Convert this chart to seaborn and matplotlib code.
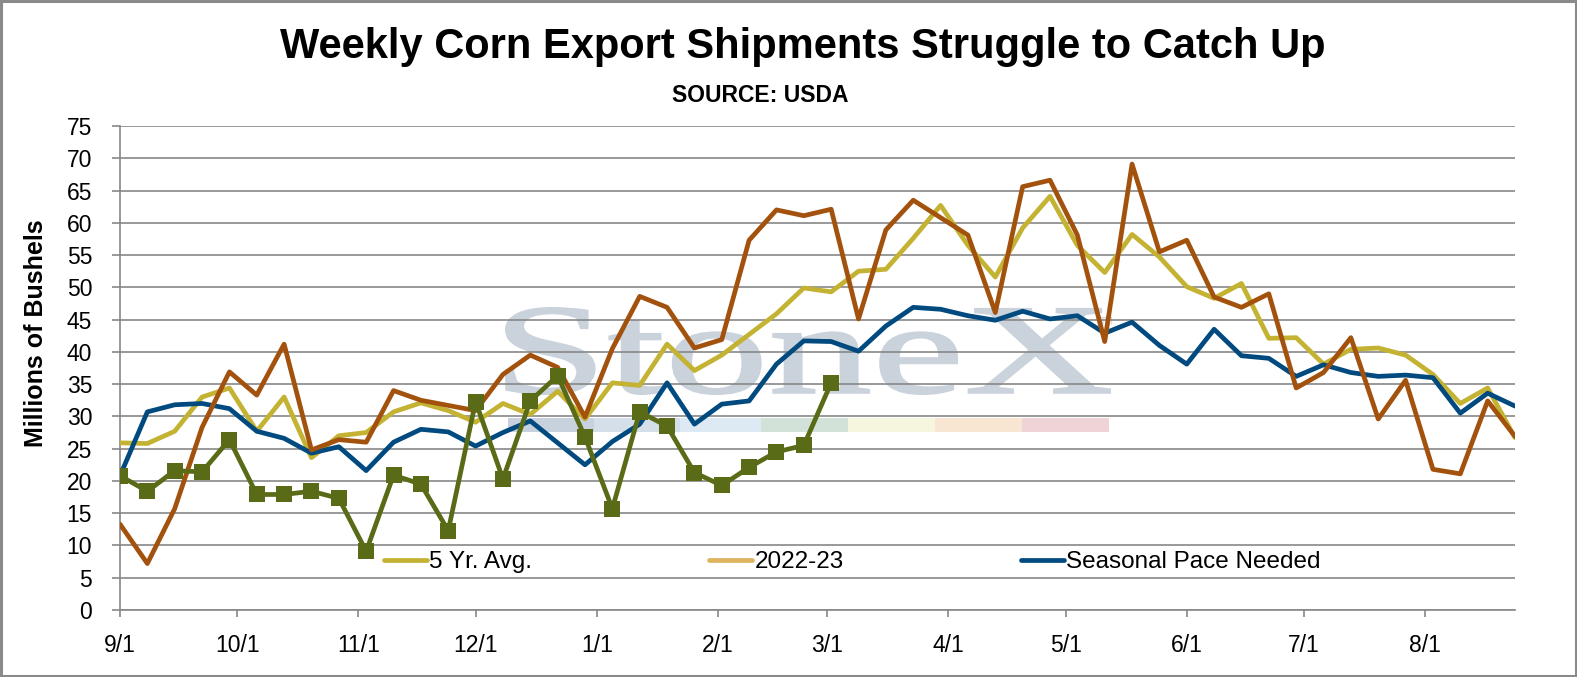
import numpy as np
import pandas as pd
import matplotlib
matplotlib.use("Agg")
import matplotlib.pyplot as plt
import matplotlib.dates as mdates
import seaborn as sns
from matplotlib.lines import Line2D
from matplotlib.textpath import TextPath
from matplotlib.patches import PathPatch, Rectangle
from matplotlib.font_manager import FontProperties
from matplotlib.transforms import Affine2D, IdentityTransform

# ---------------- data ----------------
weeks = pd.date_range("2022-09-01", periods=52, freq="7D")

avg5 = [25.9, 25.8, 27.7, 33.0, 34.4, 27.7, 33.0, 23.6, 27.0, 27.5,
        30.7, 32.1, 30.9, 29.1, 32.0, 30.3, 33.9, 29.6, 35.2, 34.8,
        41.2, 37.1, 39.5, 42.7, 45.9, 49.9, 49.3, 52.5, 52.8, 57.6,
        62.7, 56.5, 51.6, 59.2, 64.1, 56.5, 52.3, 58.2, 54.7, 50.1,
        48.3, 50.6, 42.1, 42.2, 38.1, 40.4, 40.6, 39.5, 36.5, 32.0,
        34.4, 26.7]
prev_year = [13.3, 7.2, 15.7, 28.3, 36.9, 33.3, 41.2, 24.8, 26.4, 26.0,
             34.0, 32.5, 31.7, 30.9, 36.5, 39.5, 37.6, 29.9, 40.5, 48.6,
             46.9, 40.6, 41.9, 57.3, 62.0, 61.1, 62.1, 45.1, 58.9, 63.5,
             60.8, 58.1, 46.1, 65.6, 66.6, 58.1, 41.6, 69.1, 55.5, 57.3,
             48.5, 46.9, 49.0, 34.4, 36.8, 42.2, 29.6, 35.6, 21.8, 21.1,
             32.4, 26.9]
pace_needed = [20.8, 30.7, 31.8, 32.0, 31.2, 27.7, 26.6, 24.3, 25.3, 21.6,
               26.0, 28.0, 27.6, 25.4, 27.5, 29.3, 25.9, 22.5, 26.1, 28.8,
               35.2, 28.8, 31.9, 32.4, 38.1, 41.7, 41.6, 40.1, 44.0, 46.9,
               46.6, 45.6, 44.9, 46.3, 45.1, 45.6, 42.9, 44.6, 41.0, 38.1,
               43.5, 39.4, 39.0, 36.2, 38.0, 36.8, 36.2, 36.4, 36.0, 30.5,
               33.6, 31.6]
current_year = [20.8, 18.4, 21.6, 21.4, 26.4, 17.9, 17.9, 18.4, 17.3, 9.1,
                20.9, 19.5, 12.3, 32.3, 20.3, 32.4, 36.3, 26.8, 15.7, 30.7,
                28.5, 21.3, 19.3, 22.1, 24.5, 25.5, 35.2]

legend_labels = ["5 Yr. Avg.", "2022-23", "Seasonal Pace Needed"]
month_ticks = pd.date_range("2022-09-01", "2023-08-01", freq="MS")
y_ticks = list(range(0, 80, 5))

# ---------------- style ----------------
sns.set_style("white")
plt.rcParams["font.family"] = ["Liberation Sans", "DejaVu Sans"]
for k in ["text.color", "axes.labelcolor", "xtick.labelcolor", "ytick.labelcolor"]:
    plt.rcParams[k] = "black"

C_AVG = "#C4B232"
C_PREV = "#A3520E"
C_PACE = "#004A7F"
C_CUR = "#5A6B17"
C_PREV_LEG = "#DDB45E"
GRID = "#878787"

W, H = 1577, 677
fig = plt.figure(figsize=(W / 100, H / 100), dpi=100)
ax = fig.add_axes([120 / W, (H - 610) / H, 1395 / W, 484 / H])
ax.patch.set_visible(False)

# ---------------- watermark (figure pixel coords, behind axes) ----------------
tp = TextPath((0, 0), "StoneX", size=100, prop=FontProperties(family="Liberation Serif"))
ext = tp.get_extents()
sx = 604 / ext.width
sy = 86 / ext.height
tr = Affine2D().translate(-ext.x0, -ext.y0).scale(sx, sy).translate(506, H - 394)
wm = PathPatch(tr.transform_path(tp), facecolor="#CAD2DC", edgecolor="#CAD2DC", linewidth=1.5,
               transform=IdentityTransform(), zorder=-5)
fig.add_artist(wm)
fig.text(1100 / W, (H - 322) / H, "TM", fontsize=7, color="#C8CFD8", ha="left", va="center", zorder=-5)

strip_cols = ["#C8D2DE", "#D4DFEA", "#DDEAF4", "#D2E2D8", "#F6F5DE", "#F8E6D2", "#F0D3D6"]
strip_edges = [508, 594, 680, 761, 848, 935, 1022, 1109]
for i, col in enumerate(strip_cols):
    fig.add_artist(Rectangle((strip_edges[i], H - 432), strip_edges[i + 1] - strip_edges[i], 14,
                             facecolor=col, edgecolor="none", transform=IdentityTransform(), zorder=-5))

# ---------------- series ----------------
LW = 3.4
sns.lineplot(x=weeks, y=avg5, color=C_AVG, linewidth=LW, ax=ax, zorder=3)
sns.lineplot(x=weeks, y=pace_needed, color=C_PACE, linewidth=LW, ax=ax, zorder=4)
sns.lineplot(x=weeks, y=prev_year, color=C_PREV, linewidth=LW, ax=ax, zorder=5)
sns.lineplot(x=weeks[:len(current_year)], y=current_year, color=C_CUR, linewidth=LW,
             marker="s", markersize=11.5, markeredgewidth=0, ax=ax, zorder=6)

# ---------------- axes ----------------
ax.set_xlim(weeks[0], weeks[-1])
ax.set_ylim(0, 75)
ax.set_yticks(y_ticks)
ax.set_xticks(month_ticks)
ax.xaxis.set_major_formatter(mdates.DateFormatter("%-m/%-d"))
ax.yaxis.grid(True, color=GRID, linewidth=1.2, zorder=1)
ax.xaxis.grid(False)
for s in ["top", "right"]:
    ax.spines[s].set_visible(False)
for s in ["left", "bottom"]:
    ax.spines[s].set_color(GRID)
    ax.spines[s].set_linewidth(1.2)
ax.tick_params(axis="y", which="major", direction="out", length=6, width=1.2, color=GRID,
               labelsize=16.5, pad=14, left=True, labelcolor="black")
ax.tick_params(axis="x", which="major", direction="out", length=5, width=1.2, color=GRID,
               labelsize=16.5, pad=12, bottom=True, labelcolor="black")
ax.set_xlabel("")
ax.set_ylabel("Millions of Bushels", fontsize=18, fontweight="bold", color="black")
ax.yaxis.set_label_coords(-72 / 1395, (610 - 333) / 484)

# ---------------- legend ----------------
handles = [Line2D([], [], color=C_AVG, lw=3.4),
           Line2D([], [], color=C_PREV_LEG, lw=3.4),
           Line2D([], [], color=C_PACE, lw=3.4)]
leg = ax.legend(handles, legend_labels, loc="center left", bbox_to_anchor=((384 - 120) / 1395, 0.099),
                ncol=3, frameon=False, fontsize=17.5, handlelength=1.75, handletextpad=0.1,
                columnspacing=7.3, borderpad=0, borderaxespad=0)
for t in leg.get_texts():
    t.set_color("black")

# ---------------- titles ----------------
fig.text(803 / W, (H - 47) / H, "Weekly Corn Export Shipments Struggle to Catch Up",
         fontsize=30, fontweight="bold", ha="center", va="center", color="black")
fig.text(760 / W, (H - 96) / H, "SOURCE: USDA", fontsize=16.5, fontweight="bold",
         ha="center", va="center", color="black")

# figure border
fig.add_artist(Rectangle((0.0008, 0.0015), 0.9984, 0.997, transform=fig.transFigure,
                         fill=False, edgecolor="#8A8A8A", linewidth=2.2))

fig.savefig("out.png", dpi=100)
